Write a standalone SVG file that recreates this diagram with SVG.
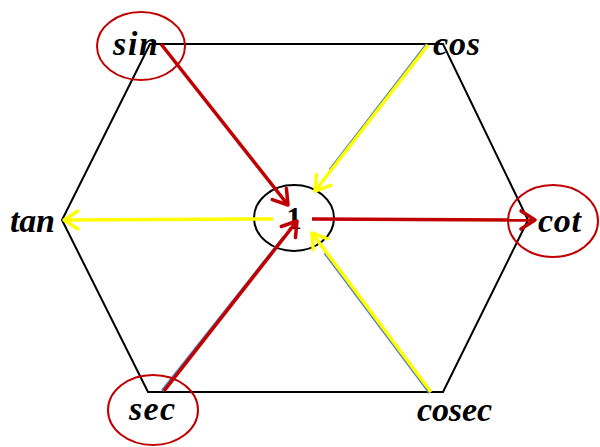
<svg xmlns="http://www.w3.org/2000/svg" width="600" height="447" viewBox="0 0 600 447">
  <defs>
    <style>
      .lbl { font-family: "Liberation Serif", "Times New Roman", serif; font-weight: bold; font-style: italic; font-size: 34px; fill: #000; }
      .one { font-family: "Liberation Serif", "Times New Roman", serif; font-weight: bold; font-size: 31px; fill: #000; }
      .ring { fill: none; stroke: #C00000; stroke-width: 2; }
      .hex { fill: none; stroke: #000; stroke-width: 2; stroke-linejoin: miter; }
      .red { fill: none; stroke: #C00000; stroke-width: 3.5; }
      .yel { fill: none; stroke: #FFFF00; stroke-width: 3.5; }
      .blu { fill: none; stroke: #4F81BD; stroke-width: 3; }
    </style>
    <marker id="arrRed" markerUnits="userSpaceOnUse" viewBox="-18 -12 22 24" refX="0" refY="0" markerWidth="22" markerHeight="24" orient="auto">
      <path d="M-14,-9 L0,0 L-14,9" fill="none" stroke="#C00000" stroke-width="3.5" stroke-linecap="round" stroke-linejoin="round"/>
    </marker>
    <marker id="arrYel" markerUnits="userSpaceOnUse" viewBox="-18 -12 22 24" refX="0" refY="0" markerWidth="22" markerHeight="24" orient="auto">
      <path d="M-14,-9 L0,0 L-14,9" fill="none" stroke="#FFFF00" stroke-width="3.5" stroke-linecap="round" stroke-linejoin="round"/>
    </marker>
  </defs>
  <rect width="600" height="447" fill="#fff"/>

  <g id="hexagon">
    <polygon class="hex" points="150,44 443,44 528,220 443,392 148,392 62,220"/>
  </g>

  <g id="one">
    <ellipse cx="294" cy="218" rx="40" ry="33" fill="none" stroke="#000" stroke-width="2"/>
    <text class="one" x="294" y="229" text-anchor="middle">1</text>
  </g>

  <g id="connectors">
    <line class="red" x1="161" y1="44" x2="288" y2="205" marker-end="url(#arrRed)"/>
    <line class="blu" x1="427" y1="44.2" x2="330" y2="170"/>
    <line class="yel" x1="428" y1="45" x2="315" y2="191" marker-end="url(#arrYel)"/>
    <line class="yel" x1="273" y1="219" x2="64" y2="220" marker-end="url(#arrYel)"/>
    <line class="red" x1="312" y1="219" x2="535" y2="220" marker-end="url(#arrRed)"/>
    <line class="blu" x1="162.3" y1="390.8" x2="284" y2="237"/>
    <line class="red" x1="164" y1="391" x2="297" y2="221" marker-end="url(#arrRed)"/>
    <line class="blu" x1="429.8" y1="392.9" x2="325" y2="253"/>
    <line class="yel" x1="431" y1="392" x2="312" y2="233" marker-end="url(#arrYel)"/>
  </g>

  <g id="sin">
    <ellipse class="ring" cx="141" cy="46" rx="44" ry="34"/>
    <text class="lbl" x="113" y="55" textLength="45" lengthAdjust="spacing">sin</text>
  </g>
  <g id="cos">
    <text class="lbl" x="433" y="55" textLength="47" lengthAdjust="spacing">cos</text>
  </g>
  <g id="tan">
    <text class="lbl" x="10" y="232" textLength="45" lengthAdjust="spacing">tan</text>
  </g>
  <g id="cot">
    <ellipse class="ring" cx="553" cy="221" rx="45" ry="36"/>
    <text class="lbl" x="538" y="232" textLength="43" lengthAdjust="spacing">cot</text>
  </g>
  <g id="sec">
    <ellipse class="ring" cx="153" cy="410" rx="45" ry="35"/>
    <text class="lbl" x="129" y="420" textLength="46" lengthAdjust="spacing">sec</text>
  </g>
  <g id="cosec">
    <text class="lbl" x="417" y="421" textLength="75" lengthAdjust="spacing">cosec</text>
  </g>
</svg>
